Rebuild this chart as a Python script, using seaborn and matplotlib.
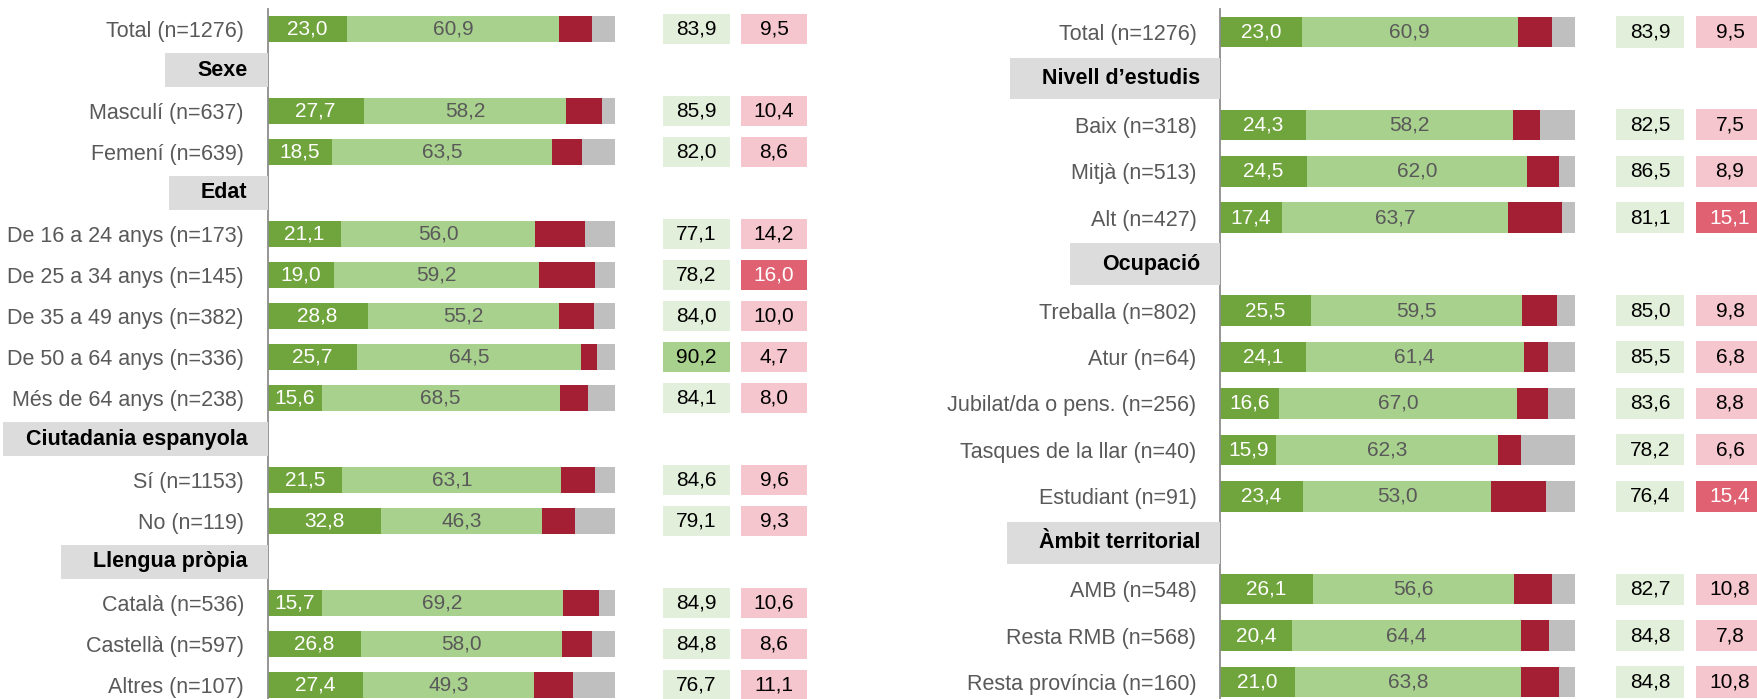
import matplotlib
matplotlib.use("Agg")
import matplotlib.pyplot as plt
from matplotlib.patches import Rectangle
from matplotlib.transforms import blended_transform_factory
import seaborn as sns
import pandas as pd

# ---------------- data ----------------
left_labels = ["Total (n=1276)", "Sexe", "Masculí (n=637)", "Femení (n=639)", "Edat",
               "De 16 a 24 anys (n=173)", "De 25 a 34 anys (n=145)", "De 35 a 49 anys (n=382)",
               "De 50 a 64 anys (n=336)", "Més de 64 anys (n=238)", "Ciutadania espanyola",
               "Sí (n=1153)", "No (n=119)", "Llengua pròpia", "Català (n=536)",
               "Castellà (n=597)", "Altres (n=107)"]
left_headers = ["Sexe", "Edat", "Ciutadania espanyola", "Llengua pròpia"]
left_very = [23.0, 27.7, 18.5, 21.1, 19.0, 28.8, 25.7, 15.6, 21.5, 32.8, 15.7, 26.8, 27.4]
left_fairly = [60.9, 58.2, 63.5, 56.0, 59.2, 55.2, 64.5, 68.5, 63.1, 46.3, 69.2, 58.0, 49.3]
left_pos = [83.9, 85.9, 82.0, 77.1, 78.2, 84.0, 90.2, 84.1, 84.6, 79.1, 84.9, 84.8, 76.7]
left_neg = [9.5, 10.4, 8.6, 14.2, 16.0, 10.0, 4.7, 8.0, 9.6, 9.3, 10.6, 8.6, 11.1]

right_labels = ["Total (n=1276)", "Nivell d’estudis", "Baix (n=318)", "Mitjà (n=513)", "Alt (n=427)",
                "Ocupació", "Treballa (n=802)", "Atur (n=64)", "Jubilat/da o pens. (n=256)",
                "Tasques de la llar (n=40)", "Estudiant (n=91)", "Àmbit territorial",
                "AMB (n=548)", "Resta RMB (n=568)", "Resta província (n=160)"]
right_headers = ["Nivell d’estudis", "Ocupació", "Àmbit territorial"]
right_very = [23.0, 24.3, 24.5, 17.4, 25.5, 24.1, 16.6, 15.9, 23.4, 26.1, 20.4, 21.0]
right_fairly = [60.9, 58.2, 62.0, 63.7, 59.5, 61.4, 67.0, 62.3, 53.0, 56.6, 64.4, 63.8]
right_pos = [83.9, 82.5, 86.5, 81.1, 85.0, 85.5, 83.6, 78.2, 76.4, 82.7, 84.8, 84.8]
right_neg = [9.5, 7.5, 8.9, 15.1, 9.8, 6.8, 8.8, 6.6, 15.4, 10.8, 7.8, 10.8]

# ---------------- style ----------------
C_VERY = "#70a43c"
C_FAIR = "#a9d18e"
C_NEG = "#a51f34"
C_REST = "#bfbfbf"
BOX_POS = "#e2efda"
BOX_POS_HI = "#a9d18e"
BOX_NEG = "#f5c6cd"
BOX_NEG_HI = "#e06272"
TXT_GRAY = "#595959"

sns.set_style("white")
plt.rcParams["font.family"] = ["Liberation Sans", "DejaVu Sans"]

LABEL_FS = 15.5
HDR_FS = 15.5
NUM_FS = 15

W, H = 1757, 699
fig = plt.figure(figsize=(W / 100, H / 100), dpi=100)


def px_axes(x0, x1, ytop, ybot):
    return fig.add_axes([x0 / W, 1 - ybot / H, (x1 - x0) / W, (ybot - ytop) / H])


def fmt(v):
    return f"{v:.1f}".replace(".", ",")


def panel(labels, headers, very, fairly, pos, neg, bar_x0, bar_x1, ytop, step,
          box_x0, box_x1, bar_h, box_h):
    n = len(labels)
    ybot = ytop + n * step
    rows = [l for l in labels if l not in headers]
    df = pd.DataFrame({"label": rows, "very": very, "fairly": fairly, "pos": pos, "neg": neg})
    df["c_fair"] = df["very"] + df["fairly"]
    df["c_neg"] = df["pos"] + df["neg"]
    df["c_rest"] = 100.0

    ax = px_axes(bar_x0, bar_x1, ytop, ybot)
    for col, color in [("c_rest", C_REST), ("c_neg", C_NEG), ("c_fair", C_FAIR), ("very", C_VERY)]:
        sns.barplot(data=df, x=col, y="label", order=labels, color=color, saturation=1,
                    width=bar_h, linewidth=0, errorbar=None, orient="h", ax=ax)
    ax.set_xlim(0, 100)
    ax.set_ylim(n - 0.5, -0.5)
    ax.set_xlabel("")
    ax.set_ylabel("")
    ax.set_xticks([])
    ax.set_yticks(range(n))
    ax.set_yticklabels(["" if l in headers else l for l in labels], fontsize=LABEL_FS, color=TXT_GRAY)
    ax.tick_params(axis="y", length=0, pad=17)
    for s in ["top", "right", "bottom"]:
        ax.spines[s].set_visible(False)
    ax.spines["left"].set_color("#8c8c8c")
    ax.spines["left"].set_linewidth(1.3)
    ax.set_facecolor("none")

    idx = {l: i for i, l in enumerate(labels)}
    for _, r in df.iterrows():
        i = idx[r["label"]]
        ax.text(r["very"] / 2, i, fmt(r["very"]), ha="center", va="center",
                fontsize=NUM_FS, color="white")
        ax.text(r["very"] + r["fairly"] / 2, i, fmt(r["fairly"]), ha="center", va="center",
                fontsize=NUM_FS, color=TXT_GRAY)

    # summary boxes
    bx = px_axes(box_x0, box_x1, ytop, ybot)
    bx.set_xlim(-0.5, 1.5)
    bx.set_ylim(n - 0.5, -0.5)
    bx.axis("off")
    for _, r in df.iterrows():
        i = idx[r["label"]]
        pc = BOX_POS_HI if r["pos"] >= 90 else BOX_POS
        nc = BOX_NEG_HI if r["neg"] >= 15 else BOX_NEG
        ntc = "white" if r["neg"] >= 15 else "black"
        bx.barh(i, 0.86, left=-0.43, height=box_h, color=pc, linewidth=0)
        bx.barh(i, 0.86, left=0.57, height=box_h, color=nc, linewidth=0)
        bx.text(0, i, fmt(r["pos"]), ha="center", va="center", fontsize=NUM_FS, color="black")
        bx.text(1, i, fmt(r["neg"]), ha="center", va="center", fontsize=NUM_FS, color=ntc)

    # section headers
    tr = blended_transform_factory(fig.transFigure, ax.transData)
    texts = []
    for h in headers:
        i = idx[h]
        t = fig.text((bar_x0 - 20) / W, i, h, transform=tr, ha="right", va="center",
                     fontsize=HDR_FS, fontweight="bold", color="black", zorder=5)
        texts.append((t, i))
    return ax, texts, tr


ax_l, texts_l, tr_l = panel(left_labels, left_headers, left_very, left_fairly, left_pos, left_neg,
                            267.5, 615.0, 8.5, 41.0, 657.75, 812.75, 0.65, 0.75)
ax_r, texts_r, tr_r = panel(right_labels, right_headers, right_very, right_fairly, right_pos, right_neg,
                            1220.0, 1575.0, 8.8, 46.43, 1610.0, 1770.0, 0.66, 0.67)

fig.canvas.draw()
renderer = fig.canvas.get_renderer()
for texts, tr, axis_px, hh in [(texts_l, tr_l, 268.0, 0.84), (texts_r, tr_r, 1220.0, 0.9)]:
    for t, i in texts:
        bb = t.get_window_extent(renderer)
        left = max(bb.x0 - 32, 3)
        rect = Rectangle((left / W, i - hh / 2), (axis_px - left) / W, hh, transform=tr,
                         facecolor="#dcdcdc", edgecolor="none", zorder=1)
        fig.add_artist(rect)

fig.savefig("out.png", dpi=100)
